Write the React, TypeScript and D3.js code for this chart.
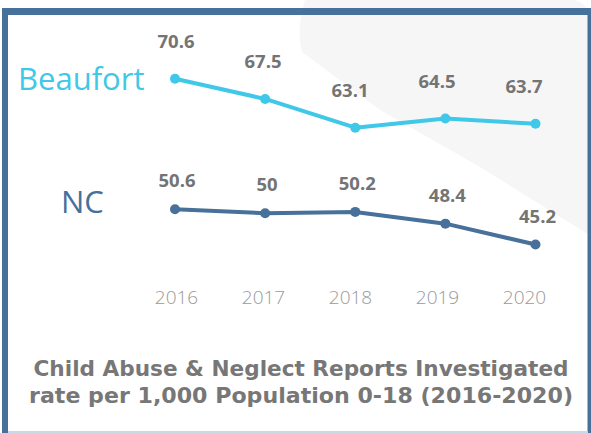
import React, { useEffect, useRef } from 'react';
import * as d3 from 'd3';

const years = ['2016', '2017', '2018', '2019', '2020'];
const beaufort = [70.6, 67.5, 63.1, 64.5, 63.7];
const nc = [50.6, 50, 50.2, 48.4, 45.2];
const titleLines = [
  'Child Abuse & Neglect Reports Investigated',
  'rate per 1,000 Population 0-18 (2016-2020)',
];

const W = 591;
const H = 433;
const DARK = '#47709a';
const CYAN = '#3fc8e7';

const App = () => {
  const ref = useRef<SVGSVGElement>(null);

  const graph = () => {
    const svg = d3.select(ref.current);
    svg.selectAll('*').remove();

    // background blob, top right
    svg
      .append('path')
      .attr('d', 'M305,0 L575,0 Q591,5 591,25 L591,236 L480,167 L380,110 L302,52 Q296,30 305,0 Z')
      .attr('fill', '#f6f6f7');

    // frame
    svg.append('rect').attr('x', 2).attr('y', 8).attr('width', 589).attr('height', 7).attr('fill', DARK);
    svg.append('rect').attr('x', 2).attr('y', 8).attr('width', 6).attr('height', 425).attr('fill', DARK);
    svg.append('rect').attr('x', 587.5).attr('y', 8).attr('width', 3.5).attr('height', 425).attr('fill', DARK);
    svg.append('rect').attr('x', 8).attr('y', 431).attr('width', 580).attr('height', 2).attr('fill', '#c9d9e8');

    const x = d3.scalePoint().domain(years).range([175, 535.5]);
    const xLabel = d3.scalePoint().domain(years).range([176, 524]);
    const y = d3.scaleLinear().domain([40, 75]).range([278.5, 50]);

    const series = [
      { name: 'Beaufort', values: beaufort, color: CYAN, lx: 18, ly: 90, dy: -31, lab: xLabel },
      { name: 'NC', values: nc, color: DARK, lx: 61, ly: 213, dy: -22, lab: (d: string) => (x(d) as number) + 2 },
    ];

    series.forEach((s) => {
      const pts = years.map((yr, i) => ({ yr, v: s.values[i] }));
      svg
        .append('path')
        .datum(pts)
        .attr('fill', 'none')
        .attr('stroke', s.color)
        .attr('stroke-width', 4)
        .attr('stroke-linejoin', 'round')
        .attr(
          'd',
          d3
            .line<{ yr: string; v: number }>()
            .x((d) => x(d.yr) as number)
            .y((d) => y(d.v))
        );

      svg
        .append('g')
        .selectAll('circle')
        .data(pts)
        .join('circle')
        .attr('cx', (d) => x(d.yr) as number)
        .attr('cy', (d) => y(d.v))
        .attr('r', 5)
        .attr('fill', s.color);

      svg
        .append('g')
        .selectAll('text')
        .data(pts)
        .join('text')
        .attr('x', (d) => s.lab(d.yr) as number)
        .attr('y', (d) => y(d.v) + s.dy)
        .attr('text-anchor', 'middle')
        .attr('font-family', '"Open Sans", sans-serif')
        .attr('font-weight', 700)
        .attr('font-size', 18.5)
        .attr('fill', '#747474')
        .text((d) => String(d.v));

      svg
        .append('text')
        .attr('x', s.lx)
        .attr('y', s.ly)
        .attr('font-family', '"Open Sans", sans-serif')
        .attr('font-size', 31)
        .attr('fill', s.color)
        .text(s.name);
    });

    // year labels
    const axis = svg
      .append('g')
      .attr('transform', 'translate(0,298)')
      .call(d3.axisBottom(xLabel).tickSize(0).tickPadding(0));
    axis.select('.domain').remove();
    axis
      .selectAll('text')
      .attr('dy', 0)
      .attr('y', 6)
      .attr('font-family', '"Open Sans", sans-serif')
      .attr('font-weight', 300)
      .attr('font-size', 19)
      .attr('fill', '#9a9a9a');

    svg
      .append('g')
      .selectAll('text')
      .data(titleLines)
      .join('text')
      .attr('x', 301)
      .attr('y', (d, i) => 376 + i * 27)
      .attr('text-anchor', 'middle')
      .attr('font-family', '"DejaVu Sans", sans-serif')
      .attr('font-weight', 700)
      .attr('font-size', 20.5)
      .attr('fill', '#777777')
      .attr('textLength', (d, i) => (i === 0 ? 535 : 544))
      .attr('lengthAdjust', 'spacingAndGlyphs')
      .text((d) => d);
  };

  // eslint-disable-next-line
  useEffect(() => graph(), []);

  return (
    <div style={{ position: 'absolute', left: 0, top: 0 }}>
      <svg ref={ref} width={W} height={H} style={{ display: 'block', background: '#fff' }}></svg>
    </div>
  );
};

export default App;
